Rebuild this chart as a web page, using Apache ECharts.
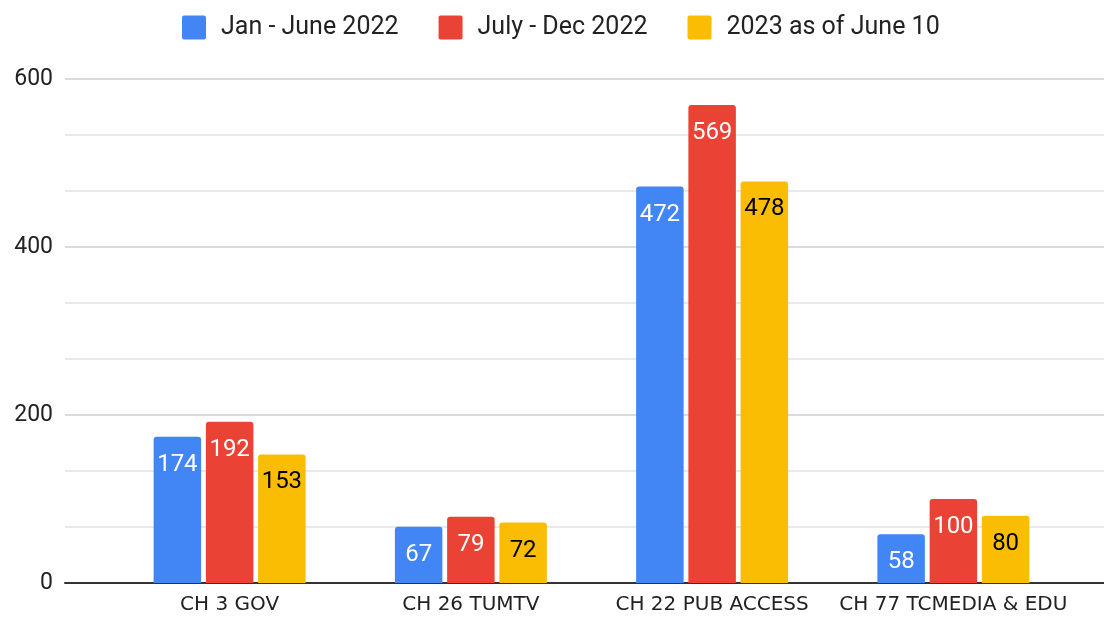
<!DOCTYPE html>
<html>
<head>
<meta charset="utf-8">
<script src="https://cdn.jsdelivr.net/npm/echarts@6/dist/echarts.min.js"></script>
<style>
  html, body { margin: 0; padding: 0; background: #fff; }
  #chart { width: 1104px; height: 617px; }
</style>
</head>
<body>
<div id="chart"></div>
<script>
const categories = ["CH 3 GOV", "CH 26 TUMTV", "CH 22 PUB ACCESS", "CH 77 TCMEDIA & EDU"]
const seriesNames = ["Jan - June 2022", "July - Dec 2022", "2023 as of June 10"]
const janJune2022 = [174, 67, 472, 58]
const julyDec2022 = [192, 79, 569, 100]
const asOfJune2023 = [153, 72, 478, 80]
const yTicks = [0, 200, 400, 600]

const COLORS = ["#4285F4", "#EA4335", "#FBBC04"]
const LABEL_COLORS = ["#ffffff", "#ffffff", "#000000"]

const chart = echarts.init(document.getElementById("chart"), null, { renderer: "canvas" })

const gridTop = 79
const gridBottom = 34

function barSeries(name, data, i) {
  return {
    name: name,
    type: "bar",
    xAxisIndex: 1,
    yAxisIndex: 1,
    data: data,
    barGap: "10%",
    barCategoryGap: "37%",
    itemStyle: { color: COLORS[i], borderRadius: [3, 3, 0, 0] },
    label: {
      show: true,
      position: "insideTop",
      distance: 16,
      color: LABEL_COLORS[i],
      fontFamily: "Roboto",
      fontSize: 24,
    },
  }
}

chart.setOption({
  animation: false,
  legend: {
    top: 10,
    left: 177,
    itemWidth: 24,
    itemHeight: 24,
    itemGap: 40,
    icon: "path://M2,0 L22,0 Q24,0 24,2 L24,22 Q24,24 22,24 L2,24 Q0,24 0,22 L0,2 Q0,0 2,0 Z",
    textStyle: { fontFamily: "Roboto", fontSize: 25, color: "#222", padding: [0, 0, 0, 10] },
    data: seriesNames,
  },
  grid: [
    // full-width grid for the value axis, gridlines and baseline
    { left: 65, right: 0, top: gridTop, bottom: gridBottom },
    // inner grid for the bars
    { left: 109, right: 30, top: gridTop, bottom: gridBottom },
  ],
  xAxis: [
    {
      type: "value",
      gridIndex: 0,
      min: 0,
      max: 1,
      axisLine: { show: true, lineStyle: { color: "#333", width: 2 } },
      axisTick: { show: false },
      axisLabel: { show: false },
      splitLine: { show: false },
    },
    {
      type: "category",
      gridIndex: 1,
      data: categories,
      axisLine: { show: false },
      axisTick: { show: false },
      axisLabel: { interval: 0, fontFamily: "DejaVu Sans", fontSize: 20, color: "#222", margin: 12 },
    },
  ],
  yAxis: [
    {
      type: "value",
      gridIndex: 0,
      min: yTicks[0],
      max: yTicks[yTicks.length - 1],
      interval: yTicks[1] - yTicks[0],
      axisLine: { show: false },
      axisTick: { show: false },
      axisLabel: { fontFamily: "Roboto", fontSize: 23, color: "#222", margin: 12 },
      splitLine: { lineStyle: { color: "#cfcfcf", width: 1.5 } },
      minorTick: { show: false, splitNumber: 3 },
      minorSplitLine: { show: true, lineStyle: { color: "#e2e2e2", width: 1.5 } },
    },
    {
      type: "value",
      gridIndex: 1,
      min: yTicks[0],
      max: yTicks[yTicks.length - 1],
      show: false,
      splitLine: { show: false },
    },
  ],
  series: [
    barSeries(seriesNames[0], janJune2022, 0),
    barSeries(seriesNames[1], julyDec2022, 1),
    barSeries(seriesNames[2], asOfJune2023, 2),
  ],
})
</script>
</body>
</html>
